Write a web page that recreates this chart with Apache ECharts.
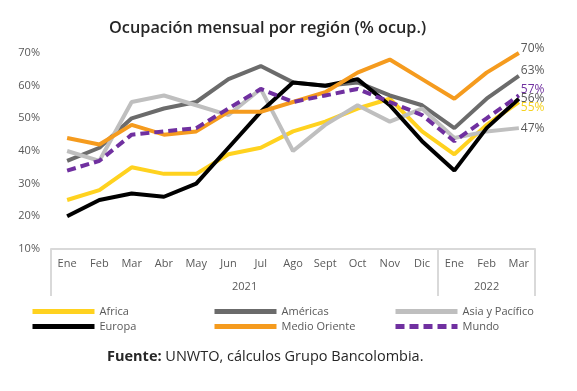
<!DOCTYPE html>
<html>
<head>
<meta charset="utf-8">
<script src="https://cdn.jsdelivr.net/npm/echarts@6/dist/echarts.min.js"></script>
<style>html,body{margin:0;padding:0;background:#fff;}#c{width:577px;height:391px;}</style>
</head>
<body>
<div id="c"></div>
<script>
const months = ['Ene','Feb','Mar','Abr','May','Jun','Jul','Ago','Sept','Oct','Nov','Dic','Ene','Feb','Mar'];
const yearLabels = ['2021', '2022'];
const yTicks = [10, 20, 30, 40, 50, 60, 70];
const africa = [25,28,35,33,33,39,41,46,49,53,56,46,39,48,55];
const americas = [37,41,50,53,55,62,66,61,60,61,57,54,47,56,63];
const asia = [40,37,55,57,54,51,59,40,48,54,49,53,44,46,47];
const europa = [20,25,27,26,30,41,52,61,60,62,54,43,34,47,56];
const medio = [44,42,48,45,46,52,52,55,58,64,68,62,56,64,70];
const mundo = [34,37,45,46,47,53,59,55,57,59,55,51,43,50,57];

const FONT = 'Open Sans';
const GRAY = '#595959';
function mk(name, data, color, labelColor, dy, extra) {
  return Object.assign({
    name: name, type: 'line', data: data, symbol: 'none', xAxisIndex: 0,
    lineStyle: { color: color, width: 4 },
    itemStyle: { color: color },
    endLabel: { show: true, formatter: '{c}%', color: labelColor, fontFamily: FONT, fontSize: 12, distance: 2, offset: [0, dy] }
  }, extra || {});
}
function leg(items, left) {
  return { data: items, orient: 'vertical', left: left, top: 306, padding: 0, itemWidth: 62, itemHeight: 12, itemGap: 4,
    itemStyle: { opacity: 0 },
    lineStyle: { width: 5 },
    textStyle: { fontFamily: FONT, fontSize: 11, color: GRAY } };
}
const chart = echarts.init(document.getElementById('c'), null, { renderer: 'canvas' });
chart.setOption({
  animation: false,
  backgroundColor: '#fff',
  title: [
    { text: 'Ocupación mensual por región (% ocup.)', left: 104, top: 15,
      textStyle: { fontFamily: FONT, fontSize: 16.3, fontWeight: 600, color: '#262626' } },
    { text: '{b|Fuente:} UNWTO, cálculos Grupo Bancolombia.', left: 102, top: 344,
      textStyle: { fontFamily: FONT, fontSize: 14.5, fontWeight: 'normal', color: '#262626',
        rich: { b: { fontFamily: FONT, fontSize: 14.5, fontWeight: 'bold', color: '#262626' } } } }
  ],
  legend: [
    leg(['Africa', 'Europa'], 30),
    leg(['Américas', 'Medio Oriente'], 212),
    leg(['Asia y Pacífico', 'Mundo'], 393)
  ],
  grid: { left: 51, right: 42, top: 53, height: 196 },
  xAxis: [
    { type: 'category', data: months, position: 'bottom', boundaryGap: true,
      axisLine: { show: true, lineStyle: { color: '#d9d9d9', width: 2 } },
      axisTick: { show: false },
      axisLabel: { fontFamily: FONT, fontSize: 11, color: GRAY, margin: 9, interval: 0 },
      splitLine: { show: false } },
    { type: 'value', min: 0, max: 15, position: 'bottom',
      axisLine: { show: false },
      axisTick: { show: true, customValues: [0, 12, 15], length: 47, inside: false, lineStyle: { color: '#d9d9d9', width: 2 } },
      axisLabel: { customValues: [6, 13.5], formatter: function (v) { return v < 12 ? yearLabels[0] : yearLabels[1]; },
        fontFamily: FONT, fontSize: 11, color: GRAY, margin: 32 },
      splitLine: { show: false } }
  ],
  yAxis: {
    type: 'value', min: yTicks[0], max: yTicks[yTicks.length - 1], interval: 10,
    axisLine: { show: false }, axisTick: { show: false }, splitLine: { show: false },
    axisLabel: { formatter: '{value}%', fontFamily: FONT, fontSize: 11, color: GRAY, margin: 11 }
  },
  series: [
    mk('Africa', africa, '#FFD21F', '#F5D21F', 6),
    mk('Américas', americas, '#6B6B6B', GRAY, -5),
    mk('Asia y Pacífico', asia, '#BFBFBF', GRAY, 0),
    mk('Europa', europa, '#000000', GRAY, 0),
    mk('Medio Oriente', medio, '#F59B1E', GRAY, -4),
    mk('Mundo', mundo, '#7030A0', '#7030A0', -6, { lineStyle: { color: '#7030A0', width: 4, type: [9, 5] } })
  ]
});
</script>
</body>
</html>
